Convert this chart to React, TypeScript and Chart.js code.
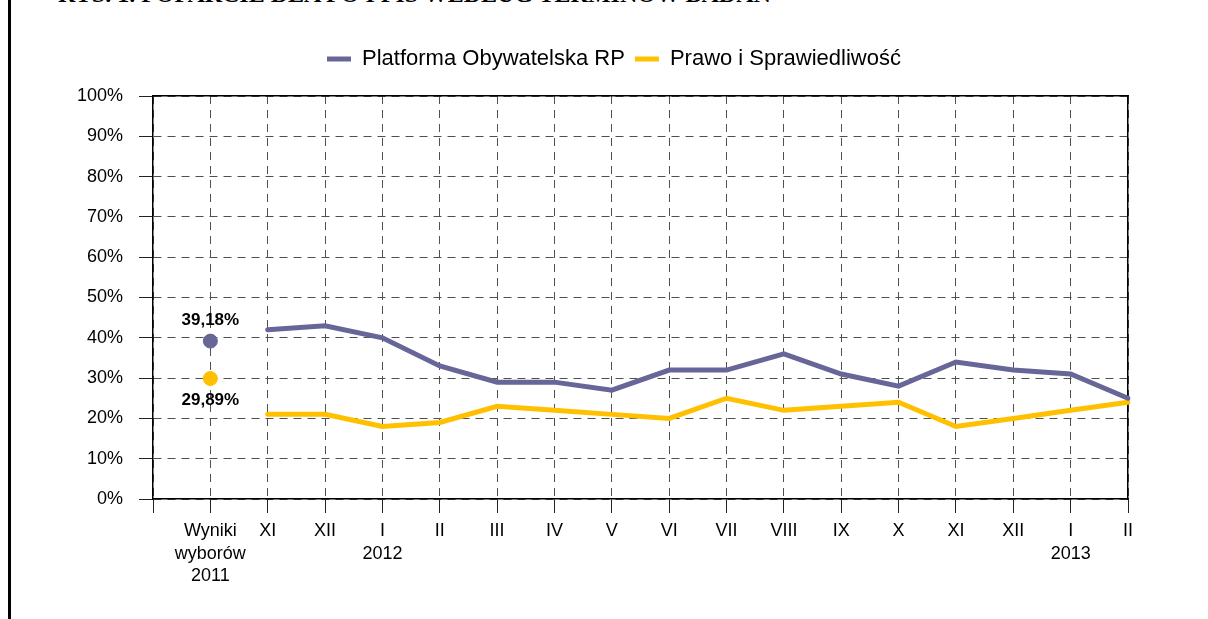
import { useEffect, useRef } from "react";
import { Chart, registerables } from "chart.js";

Chart.register(...registerables);

// ---- data ----
const categories: (string | string[])[] = [
  "",
  ["Wyniki", "wyborów", "2011"],
  "XI",
  "XII",
  ["I", "2012"],
  "II",
  "III",
  "IV",
  "V",
  "VI",
  "VII",
  "VIII",
  "IX",
  "X",
  "XI",
  "XII",
  ["I", "2013"],
  "II",
];
const seriesNames = ["Platforma Obywatelska RP", "Prawo i Sprawiedliwość"];
const poMonthly = [42, 43, 40, 33, 29, 29, 27, 32, 32, 36, 31, 28, 34, 32, 31, 25];
const pisMonthly = [21, 21, 18, 19, 23, 22, 21, 20, 25, 22, 23, 24, 18, 20, 22, 24];
const electionPO = 39.18;
const electionPiS = 29.89;
const electionLabels = ["39,18%", "29,89%"];
const yMin = 0;
const yMax = 100;
const yStep = 10;
const titleText = "RYS. 1. POPARCIE DLA PO I PIS WEDŁUG TERMINÓW BADAŃ";

const PO_COLOR = "#666699";
const PIS_COLOR = "#FFC000";
const FONT = 'Arial, "Liberation Sans", sans-serif';

const monthlySeries = (vals: number[]) => [null, null, ...vals];
const electionSeries = (v: number) => categories.map((_, i) => (i === 1 ? v : null));

const electionLabelPlugin = {
  id: "electionLabels",
  afterDatasetsDraw(chart: any) {
    const ctx = chart.ctx;
    const items: [number, string, number][] = [
      [2, electionLabels[0], -21],
      [3, electionLabels[1], 21.5],
    ];
    items.forEach(([di, text, dy]) => {
      const pt = chart.getDatasetMeta(di).data[1];
      if (!pt) return;
      ctx.save();
      ctx.font = `bold 17px ${FONT}`;
      ctx.textAlign = "center";
      ctx.textBaseline = "middle";
      ctx.fillStyle = "#000";
      ctx.fillText(text, pt.x, pt.y + dy);
      ctx.restore();
    });
  },
};

export default function App() {
  const canvasRef = useRef<HTMLCanvasElement | null>(null);

  useEffect(() => {
    if (!canvasRef.current) return;
    const gridColor = "#505050";
    const chart = new Chart(canvasRef.current, {
      type: "line",
      data: {
        labels: categories,
        datasets: [
          {
            label: seriesNames[0],
            data: monthlySeries(poMonthly),
            borderColor: PO_COLOR,
            backgroundColor: PO_COLOR,
            borderWidth: 5,
            borderCapStyle: "round",
            pointRadius: 0,
            tension: 0,
          },
          {
            label: seriesNames[1],
            data: monthlySeries(pisMonthly),
            borderColor: PIS_COLOR,
            backgroundColor: PIS_COLOR,
            borderWidth: 5,
            borderCapStyle: "round",
            pointRadius: 0,
            tension: 0,
          },
          {
            label: "wybory PO",
            data: electionSeries(electionPO),
            showLine: false,
            pointRadius: 7,
            pointBackgroundColor: PO_COLOR,
            pointBorderColor: PO_COLOR,
            borderColor: PO_COLOR,
          },
          {
            label: "wybory PiS",
            data: electionSeries(electionPiS),
            showLine: false,
            pointRadius: 7,
            pointBackgroundColor: PIS_COLOR,
            pointBorderColor: PIS_COLOR,
            borderColor: PIS_COLOR,
          },
        ],
      } as any,
      options: {
        responsive: false,
        animation: false,
        devicePixelRatio: 1,
        events: [],
        layout: { padding: { left: 53, right: 33, top: 38, bottom: 0 } },
        plugins: {
          tooltip: { enabled: false },
          legend: {
            display: true,
            position: "top",
            labels: {
              filter: (item: any) => item.datasetIndex < 2,
              usePointStyle: true,
              pointStyle: "line",
              pointStyleWidth: 24,
              padding: 10,
              color: "#000",
              font: { family: FONT, size: 22 },
            },
          },
        },
        scales: {
          x: {
            type: "category",
            position: "bottom",
            offset: false,
            grid: {
              display: true,
              color: gridColor,
              lineWidth: 1,
              tickLength: 14,
              tickColor: "#222",
            },
            border: { display: true, color: "#000", width: 1.5, dash: [8, 6] },
            ticks: {
              autoSkip: false,
              maxRotation: 0,
              padding: 7,
              color: "#000",
              font: { family: FONT, size: 18, lineHeight: 1.25 },
            },
            afterFit: (s: any) => {
              s.height = 120;
            },
          },
          x2: {
            type: "category",
            position: "top",
            offset: false,
            grid: { display: true, drawOnChartArea: false, drawTicks: false },
            border: { display: true, color: "#000", width: 1.5 },
            ticks: { display: false },
            afterFit: (s: any) => {
              s.height = 16;
            },
          },
          y: {
            type: "linear",
            position: "left",
            min: yMin,
            max: yMax,
            grid: {
              display: true,
              color: gridColor,
              lineWidth: 1,
              tickLength: 14,
              tickColor: "#222",
            },
            border: { display: true, color: "#000", width: 1.5, dash: [8, 6] },
            ticks: {
              stepSize: yStep,
              padding: 16,
              color: "#000",
              font: { family: FONT, size: 18 },
              callback: (v: any) => `${v}%`,
            },
            afterFit: (s: any) => {
              s.width = 100;
            },
          },
          y2: {
            type: "linear",
            position: "right",
            min: yMin,
            max: yMax,
            grid: { display: true, drawOnChartArea: false, drawTicks: false },
            border: { display: true, color: "#000", width: 1.5 },
            ticks: { display: false },
            afterFit: (s: any) => {
              s.width = 47;
            },
          },
        },
      } as any,
      plugins: [electionLabelPlugin],
    });
    return () => chart.destroy();
  }, []);

  return (
    <div
      style={{
        position: "absolute",
        left: 0,
        top: 0,
        width: 1208,
        height: 619,
        background: "#fff",
        overflow: "hidden",
      }}
    >
      <div
        style={{
          position: "absolute",
          left: 8,
          top: 0,
          width: 3,
          height: 619,
          background: "#000",
        }}
      />
      <div
        style={{
          position: "absolute",
          left: 58,
          top: -18,
          whiteSpace: "nowrap",
          fontFamily: '"Liberation Serif", "Times New Roman", serif',
          fontWeight: "bold",
          fontSize: 24,
          lineHeight: "24px",
          color: "#000",
        }}
      >
        {titleText}
      </div>
      <canvas
        ref={canvasRef}
        width={1208}
        height={619}
        style={{ position: "absolute", left: 0, top: 0, display: "block" }}
      />
    </div>
  );
}
